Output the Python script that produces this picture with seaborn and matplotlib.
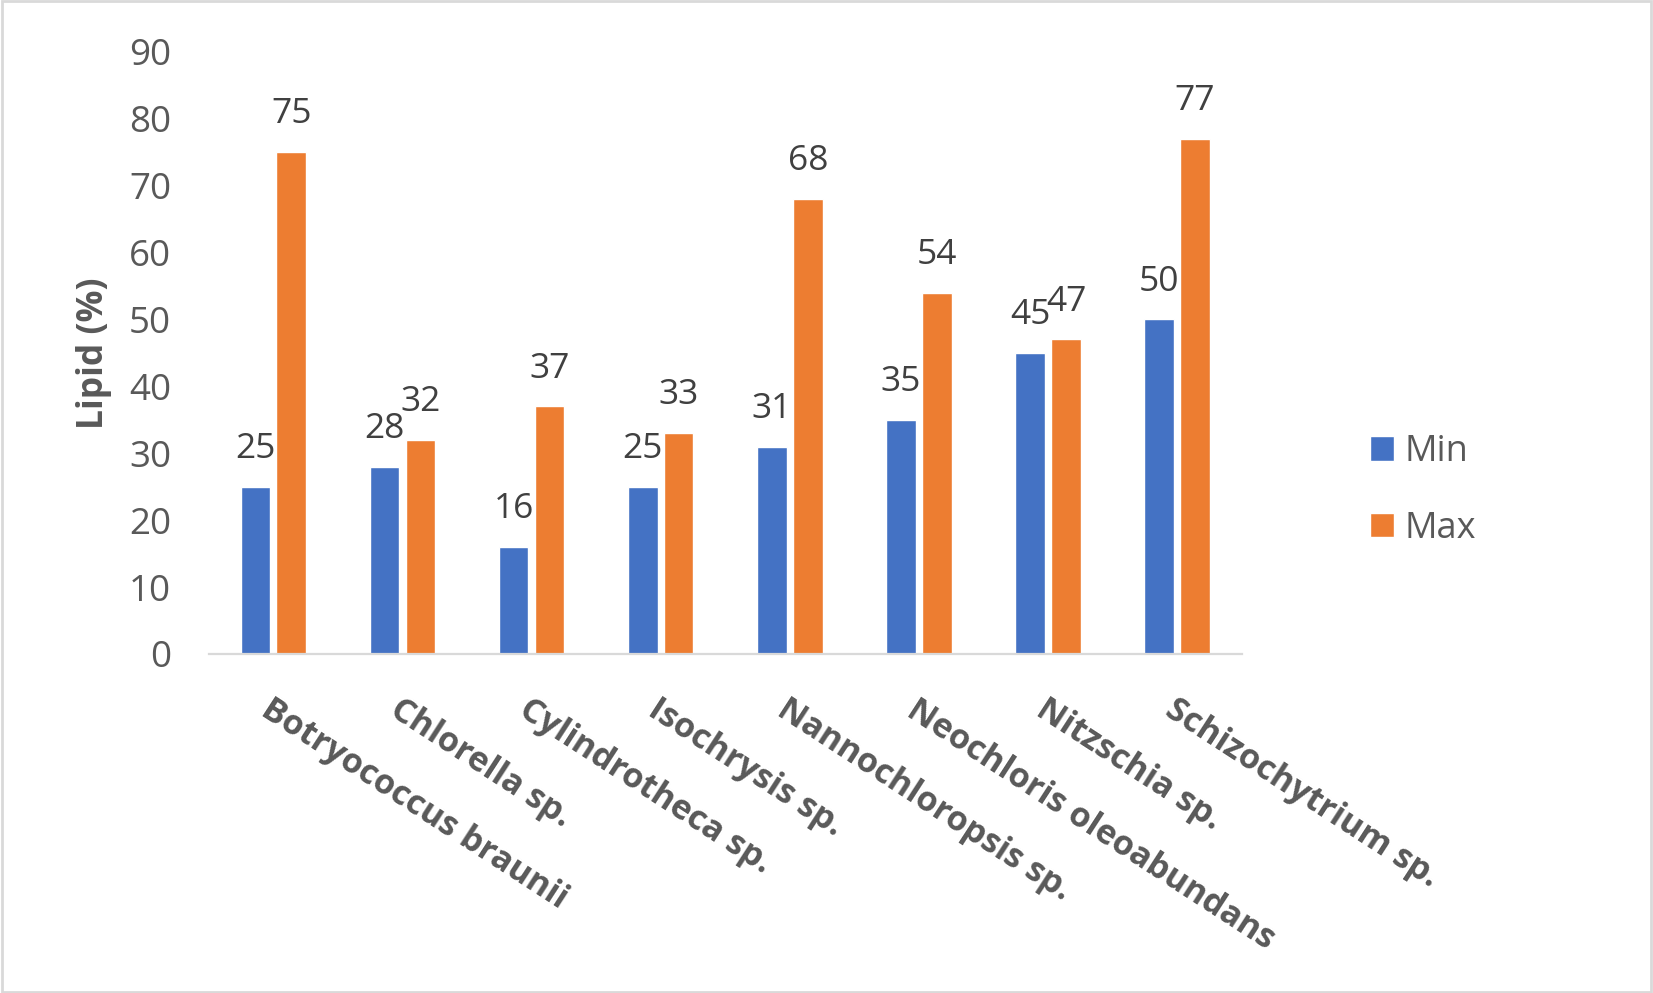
import matplotlib
matplotlib.use("Agg")
import matplotlib.pyplot as plt
import seaborn as sns
import pandas as pd
from matplotlib.patches import Rectangle

species = ["Botryococcus braunii", "Chlorella sp.", "Cylindrotheca sp.", "Isochrysis sp.",
           "Nannochloropsis sp.", "Neochloris oleoabundans", "Nitzschia sp.", "Schizochytrium sp."]
min_vals = [25, 28, 16, 25, 31, 35, 45, 50]
max_vals = [75, 32, 37, 33, 68, 54, 47, 77]
series = ["Min", "Max"]
y_ticks = [0, 10, 20, 30, 40, 50, 60, 70, 80, 90]

df = pd.DataFrame({
    "Species": species * 2,
    "Lipid": min_vals + max_vals,
    "Type": [series[0]] * len(species) + [series[1]] * len(species),
})

sns.set_theme(style="white")
plt.rcParams["font.family"] = ["Open Sans", "DejaVu Sans"]

BLUE = "#4472C4"
ORANGE = "#ED7D31"
GRAY = "#595959"

fig = plt.figure(figsize=(16.53, 9.93), dpi=100)
ax = fig.add_axes([0.1263, 0.3414, 0.7512 - 0.1263, 0.948 - 0.3414])

sns.barplot(data=df, x="Species", y="Lipid", hue="Type", hue_order=series,
            palette=[BLUE, ORANGE], saturation=1, width=0.556, gap=0.176,
            errorbar=None, ax=ax)

for cont in ax.containers:
    ax.bar_label(cont, fmt="%g", padding=15, fontsize=25.5, color="#404040")

ax.set_ylim(0, 90)
ax.set_xlim(-0.5, len(species) - 0.5)
ax.set_yticks(y_ticks)
ax.set_xlabel("")
ax.set_ylabel("Lipid (%)", fontsize=25.5, fontweight="bold", color=GRAY, labelpad=12)

for s in ["top", "right", "left"]:
    ax.spines[s].set_visible(False)
ax.spines["bottom"].set_color("#D9D9D9")
ax.spines["bottom"].set_linewidth(1.6)

ax.tick_params(axis="y", length=0, pad=27, labelsize=26.5, labelcolor=GRAY)
ax.tick_params(axis="x", length=0, pad=28, labelsize=24.5, labelcolor=GRAY)
for lab in ax.get_xticklabels():
    lab.set_rotation(-33)
    lab.set_ha("left")
    lab.set_va("top")
    lab.set_rotation_mode("anchor")
    lab.set_fontweight("bold")

handles, labels = ax.get_legend_handles_labels()
if ax.get_legend() is not None:
    ax.get_legend().remove()
leg = fig.legend(handles, labels, loc="center left", bbox_to_anchor=(0.829, 0.506),
                 bbox_transform=fig.transFigure, frameon=False, fontsize=26,
                 handlelength=0.65, handleheight=0.65, handletextpad=0.3,
                 labelspacing=1.13, borderpad=0, borderaxespad=0)
for t in leg.get_texts():
    t.set_color(GRAY)

fig.patches.append(Rectangle((0.001, 0.001), 0.998, 0.998, transform=fig.transFigure,
                             fill=False, edgecolor="#D9D9D9", linewidth=2.0, zorder=10))

fig.savefig("out.png", dpi=100, facecolor="white")
